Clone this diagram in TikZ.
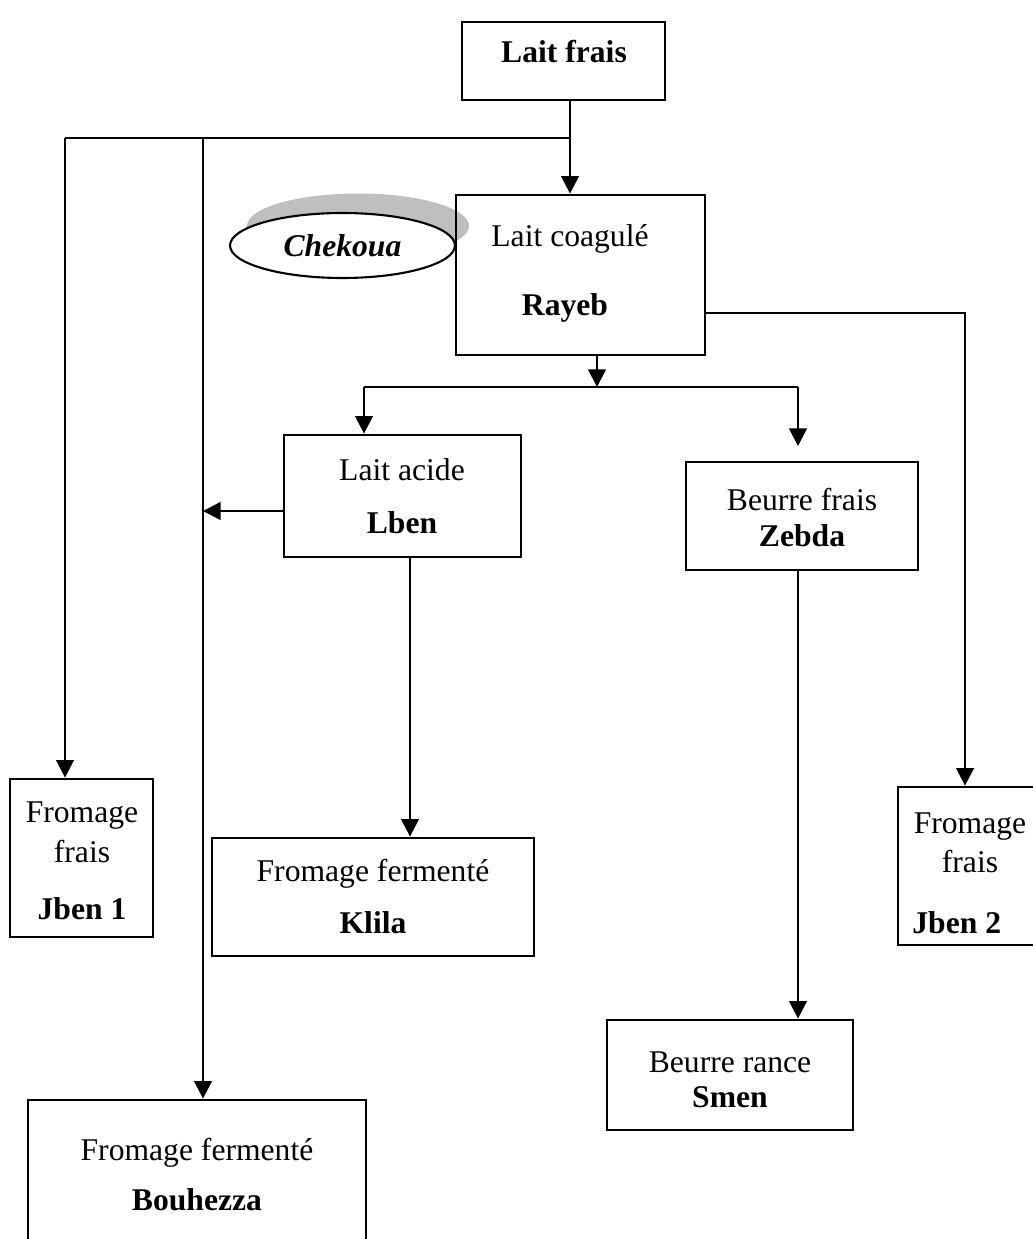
\documentclass[tikz,border=0pt]{standalone}
\usepackage{fontspec}
\setmainfont{Liberation Serif}
\usetikzlibrary{arrows.meta,shapes.geometric}
\tikzset{
  box/.style={draw=black,line width=1.6pt,inner sep=0pt},
  txt/.style={font=\fontsize{18}{22}\selectfont,inner sep=0pt,
              text height=0.7em,text depth=0.25em},
  bld/.style={txt,font=\fontsize{18}{22}\selectfont\bfseries},
  ln/.style={line width=1.4pt},
  arr/.style={ln,-{Triangle[length=10pt,width=10pt]}},
}

\begin{document}
\begin{tikzpicture}[x=0.02cm,y=-0.02cm]
  \useasboundingbox (0,0) rectangle (1033,1239);
  \clip (0,0) rectangle (1033,1239);
  % shadow of the ellipse
  \node[ellipse,fill=black!25,minimum width=4.44cm,minimum height=1.3cm,inner sep=0pt] (chkS) at (358,226) {};
  % boxes
  \node[box,minimum width=4.06cm,minimum height=1.56cm] (frais) at (563.5,61) {};
  \node[box,minimum width=4.98cm,minimum height=3.2cm] (coag) at (580.5,275) {};
  \node[box,minimum width=4.74cm,minimum height=2.44cm] (acide) at (402.5,496) {};
  \node[box,minimum width=4.64cm,minimum height=2.16cm] (zebda) at (802,516) {};
  \node[box,minimum width=6.44cm,minimum height=2.36cm] (klila) at (373,897) {};
  \node[box,minimum width=4.92cm,minimum height=2.2cm] (smen) at (730,1075) {};
  \node[box,minimum width=2.86cm,minimum height=3.16cm] (jbenA) at (81.5,858) {};
  \node[box,minimum width=2.94cm,minimum height=3.16cm] (jbenB) at (971.5,866) {};
  \node[box,minimum width=6.76cm,minimum height=3.2cm] (bouh) at (197,1180) {};
  \node[ellipse,draw,fill=white,line width=1.2pt,minimum width=4.5cm,minimum height=1.3cm,
        inner sep=0pt,font=\fontsize{18}{22}\selectfont\bfseries\itshape] (chk) at (342.5,245.5) {Chekoua};
  % texts
  \node[bld] (tFrais) at (564,59) {Lait frais};
  \node[txt] (tCoag) at (570,243) {Lait coagulé};
  \node[bld] (tRayeb) at (565,312) {Rayeb};
  \node[txt] (tAcide) at (402,477) {Lait acide};
  \node[bld] (tLben) at (402,530) {Lben};
  \node[txt] (tBeurre) at (802,507) {Beurre frais};
  \node[bld] (tZebda) at (802,543) {Zebda};
  \node[txt] (tFermK) at (373,878) {Fromage fermenté};
  \node[bld] (tKlila) at (373,930) {Klila};
  \node[txt] (tRance) at (730,1069) {Beurre rance};
  \node[bld] (tSmen) at (730,1104) {Smen};
  \node[txt] (tFromA) at (82,819) {Fromage};
  \node[txt] (tFraisA) at (82,859) {frais};
  \node[bld] (tJbenA) at (82,916) {Jben 1};
  \node[txt] (tFromB) at (970,830) {Fromage};
  \node[txt] (tFraisB) at (970,869) {frais};
  \node[bld,anchor=west] (tJbenB) at (912,930) {Jben 2};
  \node[txt] (tFermB) at (197,1157) {Fromage fermenté};
  \node[bld] (tBouh) at (197,1207) {Bouhezza};
  % junctions
  \coordinate (trunk) at (570,138);
  \coordinate (colA) at (65,138);
  \coordinate (colB) at (203,138);
  \coordinate (splitM) at (597,387);
  \coordinate (splitL) at (364,387);
  \coordinate (splitR) at (798,387);
  \coordinate (zTip) at (798,446);
  \coordinate (rTurn) at (965,313);
  \coordinate (lbenY) at (0,511);
  \coordinate (kX) at (410,0);
  \coordinate (sX) at (798,0);
  % connectors
  \draw[arr] (frais.south -| trunk) -- (coag.north -| trunk);
  \draw[ln] (trunk) -- (colA);
  \draw[arr] (colA) -- (jbenA.north -| colA);
  \draw[arr] (colB) -- (bouh.north -| colB);
  \draw[arr] (coag.south -| splitM) -- (splitM);
  \draw[ln] (splitL) -- (splitR);
  \draw[arr] (splitL) -- (acide.north -| splitL);
  \draw[arr] (splitR) -- (zTip);
  \draw[arr] (coag.east |- rTurn) -- (rTurn) -- (jbenB.north -| rTurn);
  \draw[arr] (acide.west |- lbenY) -- (lbenY -| colB);
  \draw[arr] (acide.south -| kX) -- (klila.north -| kX);
  \draw[arr] (zebda.south -| sX) -- (smen.north -| sX);
\end{tikzpicture}
\end{document}
